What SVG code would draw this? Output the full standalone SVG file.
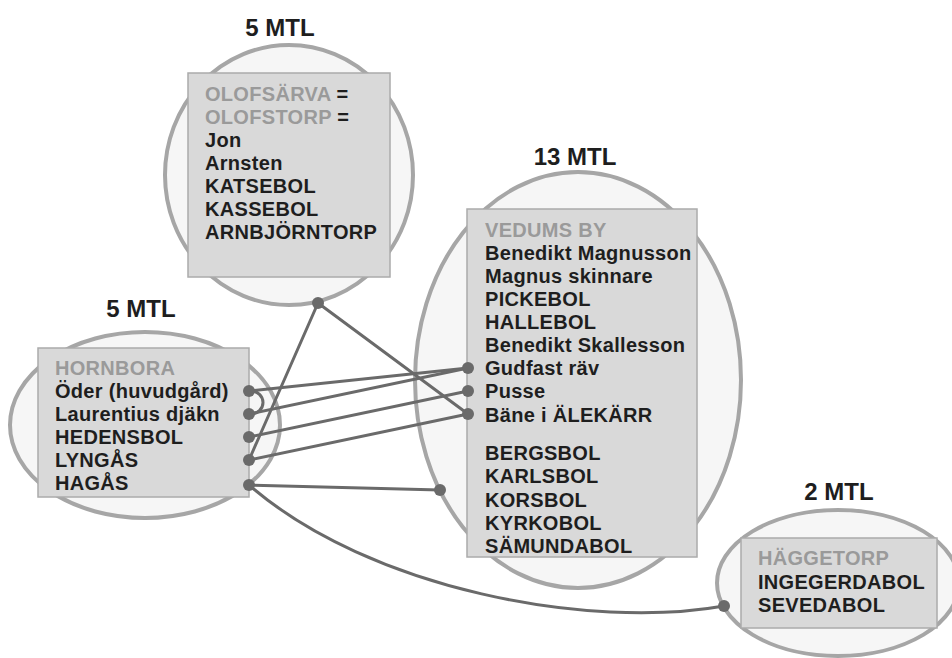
<svg xmlns="http://www.w3.org/2000/svg" width="952" height="658" viewBox="0 0 952 658">
<defs>
<style>
.ell{fill:#f6f6f6;stroke:#a6a6a6;stroke-width:4}
.box{fill:#d9d9d9;stroke:#ababab;stroke-width:1.5}
.t{font-family:"Liberation Sans",Arial,sans-serif;font-weight:bold;font-size:20px;letter-spacing:0.3px;fill:#1e1e1e}
.h{fill:#9a9a9a}
.lbl{font-family:"Liberation Sans",Arial,sans-serif;font-weight:bold;font-size:24px;fill:#1e1e1e;text-anchor:middle}
.c{fill:none;stroke:#6a6a6a;stroke-width:3;stroke-linecap:round}
.d{fill:#6a6a6a}
</style>
</defs>
<rect width="952" height="658" fill="#ffffff"/>

<g id="node-olofsarva">
<text class="lbl" x="280" y="36">5 MTL</text>
<ellipse class="ell" cx="289" cy="175" rx="124" ry="130"/>
<rect class="box" x="188" y="73" width="202" height="204"/>
<text class="t" x="205" y="101"><tspan class="h">OLOFSÄRVA</tspan> =</text>
<text class="t" x="205" y="124"><tspan class="h">OLOFSTORP</tspan> =</text>
<text class="t" x="205" y="147">Jon</text>
<text class="t" x="205" y="170">Arnsten</text>
<text class="t" x="205" y="193">KATSEBOL</text>
<text class="t" x="205" y="216">KASSEBOL</text>
<text class="t" x="205" y="239">ARNBJÖRNTORP</text>
</g>

<g id="node-hornbora">
<text class="lbl" x="141" y="317">5 MTL</text>
<ellipse class="ell" cx="145" cy="425" rx="135" ry="93"/>
<rect class="box" x="38" y="348" width="211" height="149"/>
<text class="t h" x="55" y="375">HORNBORA</text>
<text class="t" x="55" y="398">Öder (huvudgård)</text>
<text class="t" x="55" y="421">Laurentius djäkn</text>
<text class="t" x="55" y="444">HEDENSBOL</text>
<text class="t" x="55" y="467">LYNGÅS</text>
<text class="t" x="55" y="490">HAGÅS</text>
</g>

<g id="node-vedum">
<text class="lbl" x="575" y="165">13 MTL</text>
<ellipse class="ell" cx="578" cy="380" rx="163" ry="208"/>
<rect class="box" x="467" y="209" width="230" height="348"/>
<text class="t h" x="485" y="236.7">VEDUMS BY</text>
<text class="t" x="485" y="259.8">Benedikt Magnusson</text>
<text class="t" x="485" y="282.9">Magnus skinnare</text>
<text class="t" x="485" y="306">PICKEBOL</text>
<text class="t" x="485" y="329.1">HALLEBOL</text>
<text class="t" x="485" y="352.2">Benedikt Skallesson</text>
<text class="t" x="485" y="375.3">Gudfast räv</text>
<text class="t" x="485" y="398.4">Pusse</text>
<text class="t" x="485" y="421.5">Bäne i ÄLEKÄRR</text>
<text class="t" x="485" y="460">BERGSBOL</text>
<text class="t" x="485" y="483.3">KARLSBOL</text>
<text class="t" x="485" y="506.5">KORSBOL</text>
<text class="t" x="485" y="529.8">KYRKOBOL</text>
<text class="t" x="485" y="553">SÄMUNDABOL</text>
</g>

<g id="node-haggetorp">
<text class="lbl" x="839" y="500">2 MTL</text>
<ellipse class="ell" cx="838" cy="583" rx="121" ry="73"/>
<rect class="box" x="741" y="538" width="196" height="90"/>
<text class="t h" x="758" y="565">HÄGGETORP</text>
<text class="t" x="758" y="589">INGEGERDABOL</text>
<text class="t" x="758" y="612">SEVEDABOL</text>
</g>

<g id="connectors">
<path class="c" d="M251 391 A12 11.5 0 0 1 251 414"/>
<line class="c" x1="249" y1="391" x2="468" y2="368"/>
<line class="c" x1="249" y1="414" x2="468" y2="368"/>
<line class="c" x1="249" y1="437" x2="468" y2="391"/>
<line class="c" x1="249" y1="460" x2="468" y2="414"/>
<line class="c" x1="249" y1="460" x2="318" y2="303"/>
<line class="c" x1="318" y1="303" x2="468" y2="414"/>
<line class="c" x1="249" y1="485" x2="440" y2="490"/>
<path class="c" d="M249 485 C370 590 590 630 724 606"/>
<circle class="d" cx="249" cy="391" r="6"/>
<circle class="d" cx="249" cy="414" r="6"/>
<circle class="d" cx="249" cy="437" r="6"/>
<circle class="d" cx="249" cy="460" r="6"/>
<circle class="d" cx="249" cy="485" r="6"/>
<circle class="d" cx="318" cy="303" r="6"/>
<circle class="d" cx="468" cy="368" r="6"/>
<circle class="d" cx="468" cy="391" r="6"/>
<circle class="d" cx="468" cy="414" r="6"/>
<circle class="d" cx="440" cy="490" r="6"/>
<circle class="d" cx="724" cy="606" r="6"/>
</g>
</svg>
